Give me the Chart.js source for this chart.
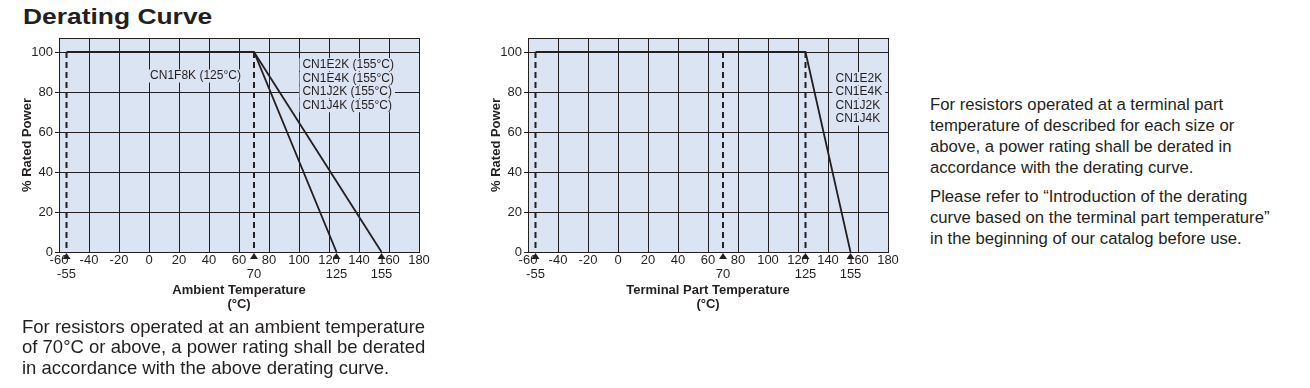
<!DOCTYPE html>
<html>
<head>
<meta charset="utf-8">
<script src="https://cdn.jsdelivr.net/npm/chart.js@4.4.0/dist/chart.umd.min.js"></script>
<style>
  body { margin: 0; width: 1310px; height: 388px; background: #fff; position: relative; overflow: hidden;
         font-family: "Liberation Sans", Arial, Helvetica, sans-serif; color: #231f20; }
  .box { position: absolute; top: 0; width: 440px; height: 320px; }
  h1 { position: absolute; left: 23px; top: 6px; margin: 0; font-size: 22px; line-height: 22px; font-weight: bold;
       transform: scaleX(1.2); transform-origin: left top; }
  .txt { position: absolute; margin: 0; white-space: nowrap; }
  .txt p { margin: 0; }
</style>
</head>
<body>
<h1>Derating Curve</h1>
<div class="box" style="left:0"><canvas id="ambient" width="440" height="320"></canvas></div>
<div class="box" style="left:469px"><canvas id="terminal" width="440" height="320"></canvas></div>
<div class="txt" style="left:22px; top:316.5px; font-size:18.5px; line-height:20.8px;">
  For resistors operated at an ambient temperature<br>of 70°C or above, a power rating shall be derated<br>in accordance with the above derating curve.
</div>
<div class="txt" style="left:930px; top:94px; font-size:16.7px; line-height:21px;">
  <p>For resistors operated at a terminal part<br>temperature of described for each size or<br>above, a power rating shall be derated in<br>accordance with the derating curve.</p>
  <p style="margin-top:8px">Please refer to “Introduction of the derating<br>curve based on the terminal part temperature”<br>in the beginning of our catalog before use.</p>
</div>
<script>
// axis ticks
const tempTicks = [-60, -40, -20, 0, 20, 40, 60, 80, 100, 120, 140, 160, 180];
const powerTicks = [0, 20, 40, 60, 80, 100];
const markedTemps = [-55, 70, 125, 155];

// ambient temperature chart
const ambientGuides = [-55, 70];
const guidePower = [100, 0];
const f8kTemp = [-55, 70, 125];
const f8kPower = [100, 100, 0];
const e2kTemp = [70, 155];
const e2kPower = [100, 0];
const ambientLabel = ['CN1F8K (125°C)'];
const ambientGroup = ['CN1E2K (155°C)', 'CN1E4K (155°C)', 'CN1J2K (155°C)', 'CN1J4K (155°C)'];

// terminal part temperature chart
const terminalGuides = [-55, 70, 125];
const terminalTemp = [-55, 125, 155];
const terminalPower = [100, 100, 0];
const terminalGroup = ['CN1E2K', 'CN1E4K', 'CN1J2K', 'CN1J4K'];

const ink = '#231f20';
const plotBg = '#dbe4f3';
Chart.defaults.font.family = '"Liberation Sans", Arial, Helvetica, sans-serif';
Chart.defaults.color = ink;

function curve(xs, ys) {
  return { data: xs.map((x, i) => ({ x: x, y: ys[i] })), showLine: true, borderColor: ink,
           borderWidth: 1.8, pointRadius: 0 };
}
function guide(x) {
  return { data: guidePower.map(y => ({ x: x, y: y })), showLine: true, borderColor: ink,
           borderWidth: 2, borderDash: [6, 4], pointRadius: 0 };
}

// plot background, frame, text notes and the marked temperatures under the axis
const extras = {
  id: 'extras',
  beforeDraw(chart) {
    const a = chart.chartArea, ctx = chart.ctx;
    ctx.save();
    ctx.fillStyle = plotBg;
    ctx.fillRect(a.left, a.top, a.width, a.height);
    ctx.restore();
  },
  beforeDatasetsDraw(chart, args, opts) {
    const a = chart.chartArea, ctx = chart.ctx;
    const xs = chart.scales.x, ys = chart.scales.y;
    ctx.save();
    ctx.strokeStyle = ink;
    ctx.lineWidth = 1;
    ctx.strokeRect(a.left + 0.5, a.top + 0.5, a.width, a.height);
    ctx.font = '12px "Liberation Sans", Arial, sans-serif';
    ctx.textBaseline = 'middle';
    opts.notes.forEach(n => {
      const px = xs.getPixelForValue(n.x);
      const py = ys.getPixelForValue(n.y);
      n.text.forEach((t, i) => {
        const w = ctx.measureText(t).width;
        const left = n.align === 'center' ? px - w / 2 : px;
        const y = py + (i - n.anchor) * n.step;
        ctx.fillStyle = plotBg;
        ctx.fillRect(left - 3, y - 6.5, w + 6, 13);
        ctx.fillStyle = ink;
        ctx.textAlign = 'left';
        ctx.fillText(t, left, y);
      });
    });
    ctx.restore();
  },
  afterDraw(chart) {
    const ctx = chart.ctx, xs = chart.scales.x, bottom = chart.chartArea.bottom;
    ctx.save();
    ctx.fillStyle = ink;
    ctx.font = '13px "Liberation Sans", Arial, sans-serif';
    ctx.textAlign = 'center';
    ctx.textBaseline = 'middle';
    markedTemps.forEach(v => {
      const px = xs.getPixelForValue(v);
      ctx.beginPath();
      ctx.moveTo(px, bottom + 1);
      ctx.lineTo(px - 4, bottom + 7);
      ctx.lineTo(px + 4, bottom + 7);
      ctx.closePath();
      ctx.fill();
      ctx.fillText(String(v), px, bottom + 22);
    });
    ctx.restore();
  }
};

function makeChart(id, xTitle, datasets, notes) {
  return new Chart(document.getElementById(id), {
    type: 'scatter',
    data: { datasets: datasets },
    options: {
      responsive: false,
      animation: false,
      events: [],
      layout: { padding: { left: 0, right: 21, top: 38, bottom: 0 } },
      plugins: { legend: { display: false }, tooltip: { enabled: false }, extras: { notes: notes } },
      scales: {
        x: {
          type: 'linear', min: -60, max: 180,
          afterBuildTicks: s => { s.ticks = tempTicks.map(v => ({ value: v })); },
          afterFit: s => { s.height = 68; },
          ticks: { padding: 1, maxRotation: 0, autoSkip: false, font: { size: 13 } },
          grid: { color: ink, drawTicks: false },
          border: { display: false },
          title: { display: true, text: [xTitle, '(°C)'], font: { size: 13, weight: 'bold', lineHeight: 1.08 },
                   padding: { top: 0, bottom: 9 } }
        },
        y: {
          min: 0, max: 107,
          afterBuildTicks: s => { s.ticks = powerTicks.map(v => ({ value: v })); },
          afterFit: s => { s.width = 59; },
          ticks: { padding: 2, font: { size: 13 } },
          grid: { color: ink, tickLength: 4 },
          border: { display: false },
          title: { display: true, text: '% Rated Power', font: { size: 13, weight: 'bold' },
                   padding: { top: 20, bottom: 0 } }
        }
      }
    },
    plugins: [extras]
  });
}

makeChart('ambient', 'Ambient Temperature',
  ambientGuides.map(guide).concat([curve(f8kTemp, f8kPower), curve(e2kTemp, e2kPower)]),
  [
    { text: ambientLabel, x: 31, y: 88, align: 'center', anchor: 0, step: 14 },
    { text: ambientGroup, x: 102.3, y: 80, align: 'left', anchor: 2, step: 13.7 }
  ]);

makeChart('terminal', 'Terminal Part Temperature',
  terminalGuides.map(guide).concat([curve(terminalTemp, terminalPower)]),
  [
    { text: terminalGroup, x: 145, y: 80, align: 'left', anchor: 1, step: 13.5 }
  ]);
</script>
</body>
</html>
